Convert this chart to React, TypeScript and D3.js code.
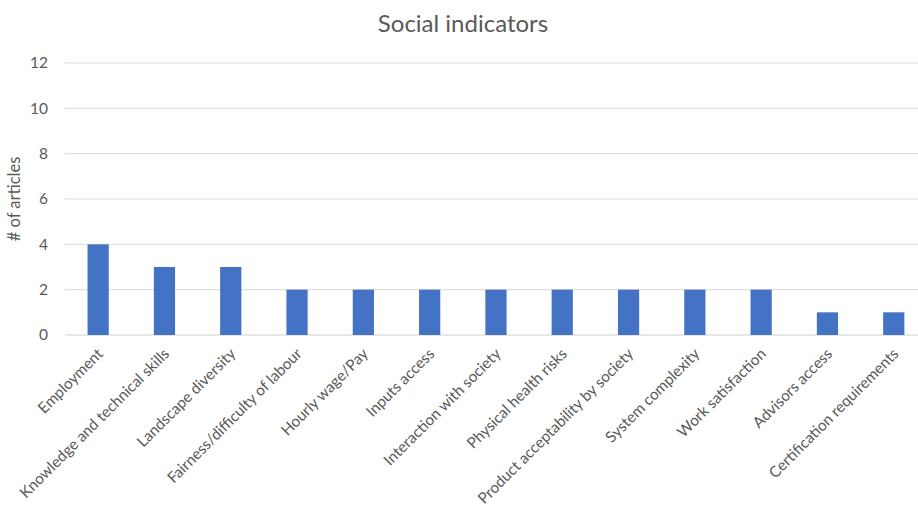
import React from "react";
import * as d3 from "d3";

const categories = [
  "Employment",
  "Knowledge and technical skills",
  "Landscape diversity",
  "Fairness/difficulty of labour",
  "Hourly wage/Pay",
  "Inputs access",
  "Interaction with society",
  "Physical health risks",
  "Product acceptability by society",
  "System complexity",
  "Work satisfaction",
  "Advisors access",
  "Certification requirements",
];
const values = [4, 3, 3, 2, 2, 2, 2, 2, 2, 2, 2, 1, 1];
const yTicks = [0, 2, 4, 6, 8, 10, 12];

const W = 918;
const H = 511;
const FONT = "Lato, 'Open Sans', sans-serif";
const TEXT = "#595959";

export default function App() {
  const left = 65;
  const bandW = 66.3;
  const right = left + bandW * categories.length;
  const x = d3.scaleBand<string>().domain(categories).range([left, right]).paddingInner(0.68).paddingOuter(0.34);
  const y = d3.scaleLinear().domain([0, 12]).range([335, 63]);

  return (
    <svg width={W} height={H} style={{ position: "absolute", left: 0, top: 0, background: "#fff" }}>
      <rect width={W} height={H} fill="#fff" />
      <text x={463} y={32} textAnchor="middle" fontFamily={FONT} fontSize={24} fill={TEXT}>
        Social indicators
      </text>
      {yTicks.map((t) => (
        <g key={t}>
          <line x1={left} x2={W} y1={y(t)} y2={y(t)} stroke={t === 0 ? "#d0d0d0" : "#d9d9d9"} strokeWidth={1} />
          <text x={48} y={y(t)} dy="0.35em" textAnchor="end" fontFamily={FONT} fontSize={15.5} fill={TEXT}>
            {t}
          </text>
        </g>
      ))}
      <text
        transform={`translate(20, ${(y(0) + y(12)) / 2}) rotate(-90)`}
        textAnchor="middle"
        fontFamily={FONT}
        fontSize={16.5}
        fill={TEXT}
      >
        # of articles
      </text>
      {categories.map((c, i) => (
        <rect key={c} x={x(c)} y={y(values[i])} width={x.bandwidth()} height={y(0) - y(values[i])} fill="#4472C4" />
      ))}
      {categories.map((c) => {
        const cx = (x(c) as number) + x.bandwidth() / 2;
        return (
          <text
            key={c}
            transform={`translate(${cx + 2}, 351) rotate(-45)`}
            textAnchor="end"
            dy="0.35em"
            fontFamily={FONT}
            fontSize={15.3}
            fill={TEXT}
          >
            {c}
          </text>
        );
      })}
    </svg>
  );
}
